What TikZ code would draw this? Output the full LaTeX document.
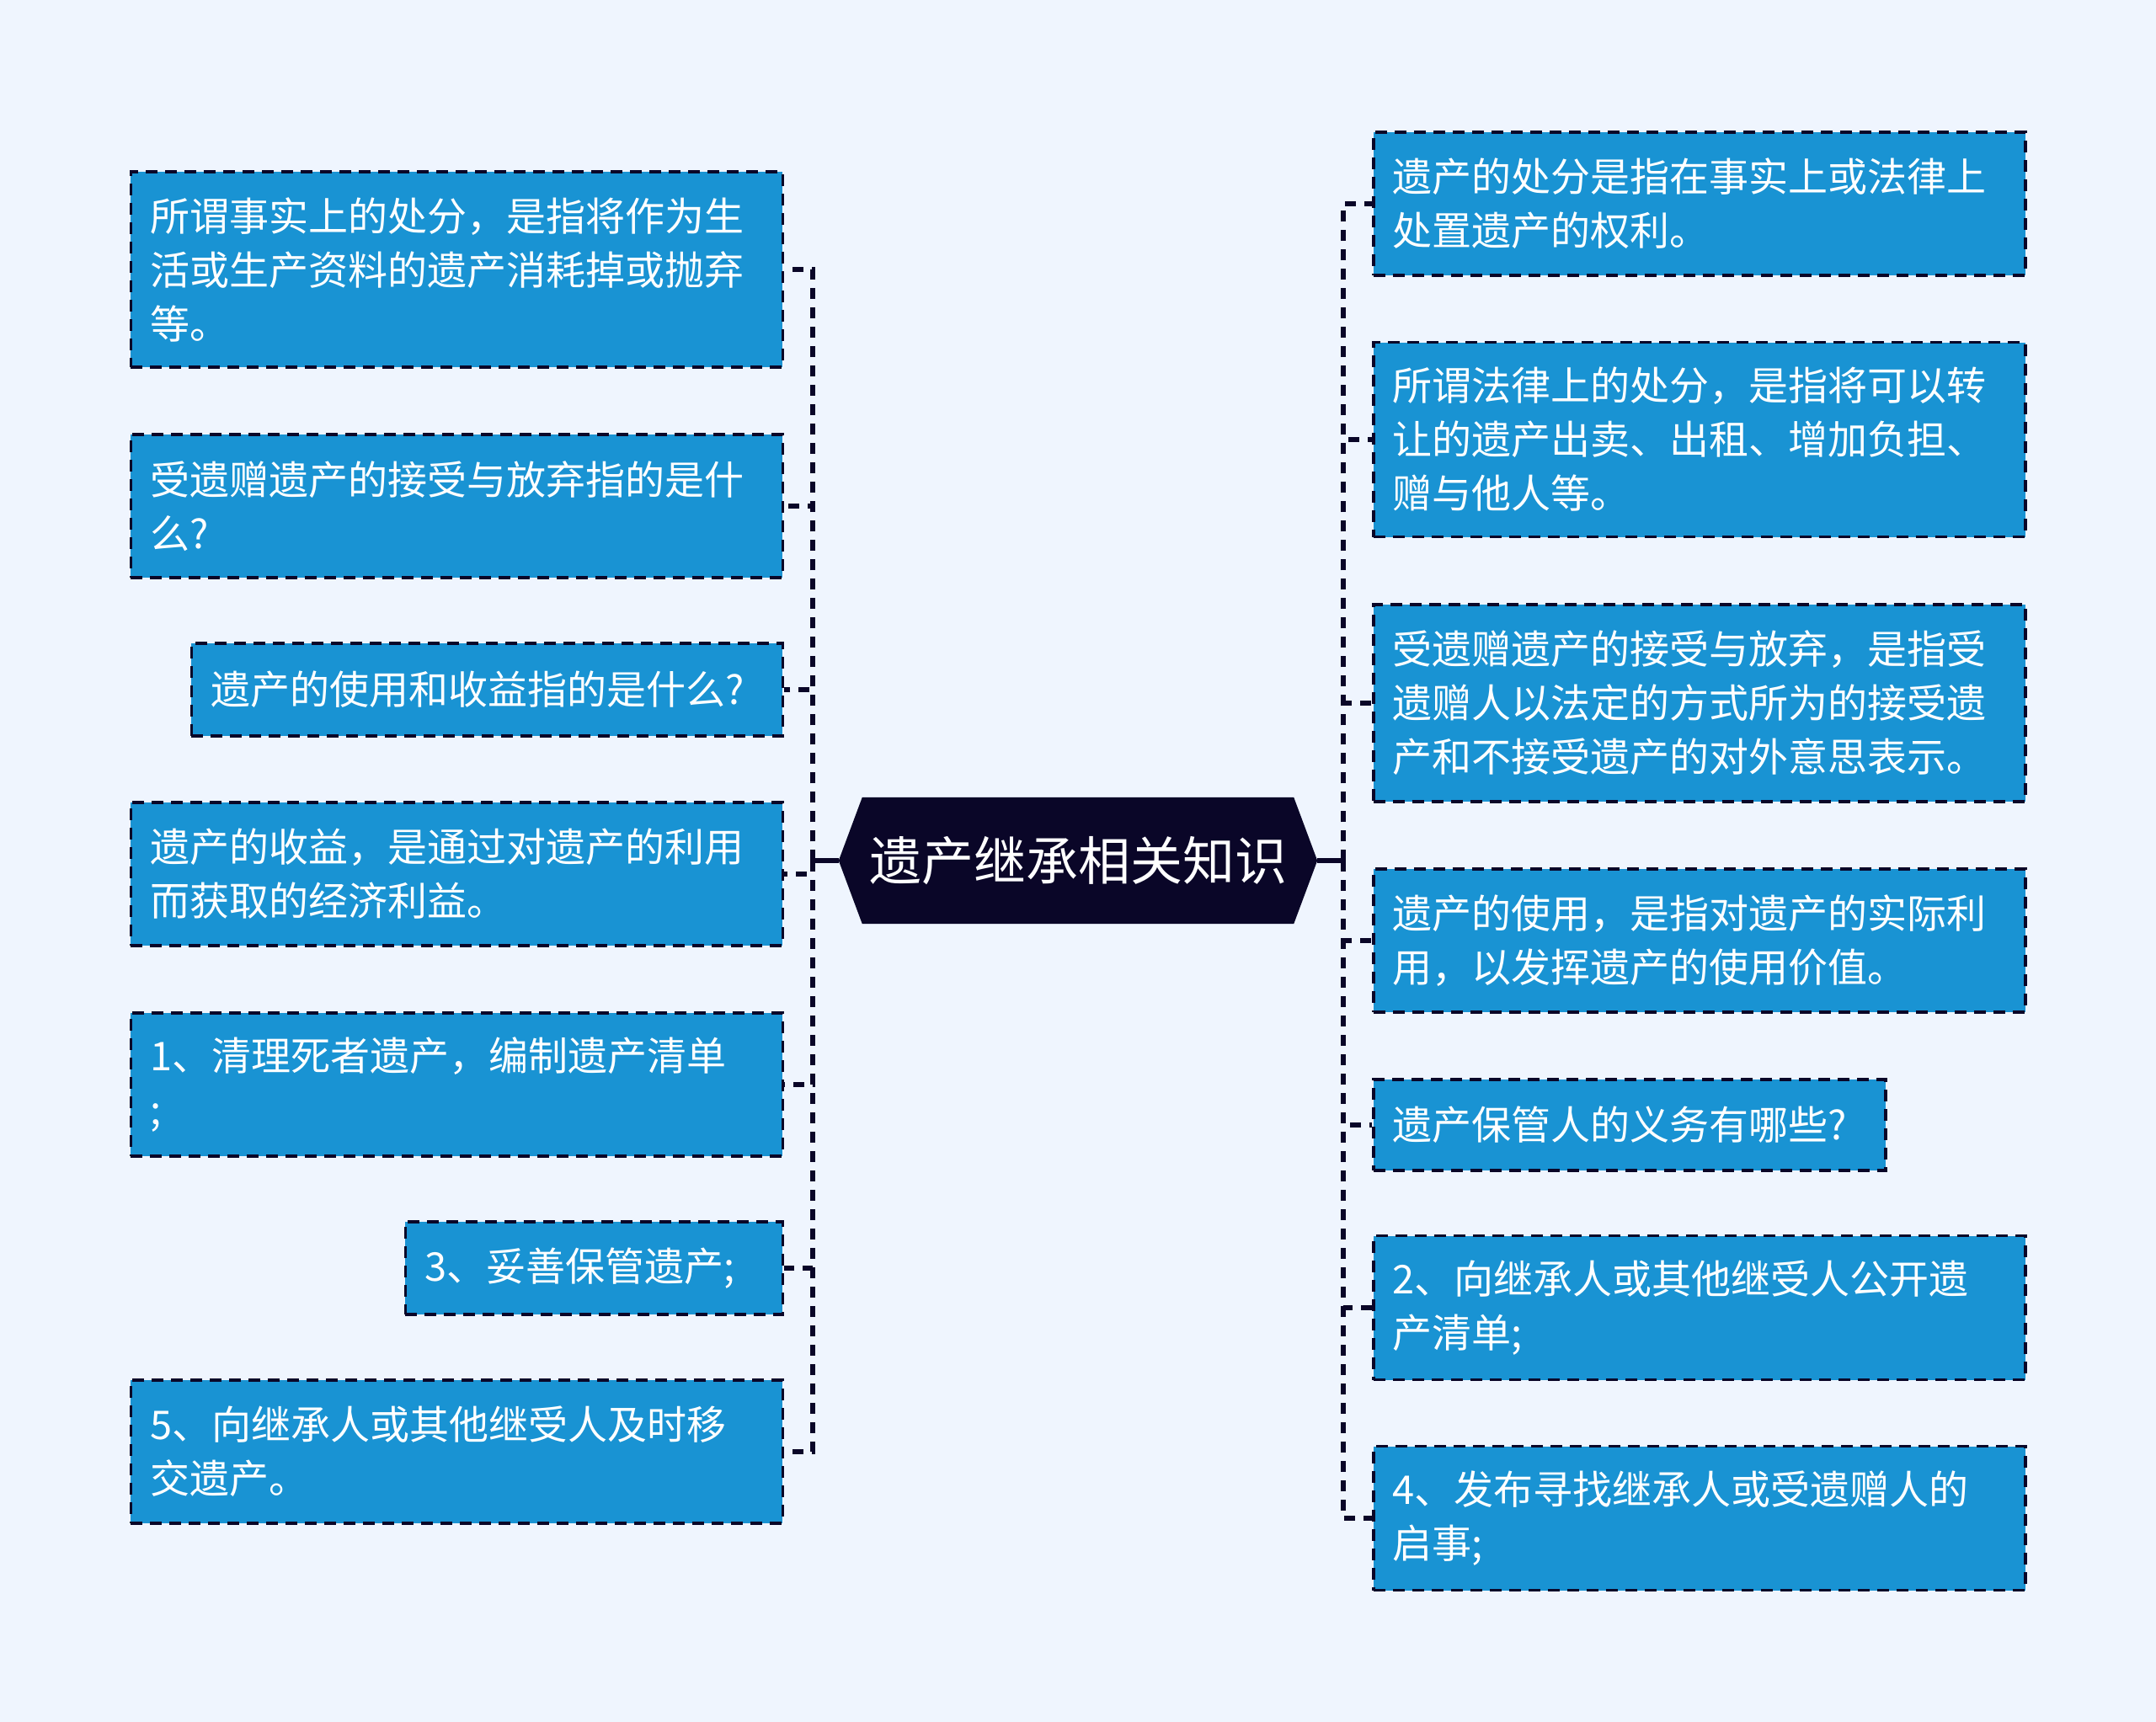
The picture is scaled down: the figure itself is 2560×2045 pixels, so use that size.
\documentclass[tikz,border=0pt]{standalone}
\usepackage{fontspec}
\newfontfamily\cjk{Noto Sans CJK SC}
\usepackage{tikz}
\usetikzlibrary{calc, backgrounds}
\usepackage{xcolor}
\definecolor{pagebg}{RGB}{239,245,254}
\definecolor{leafblue}{RGB}{25,147,211}
\definecolor{navy}{RGB}{10,6,40}
\tikzset{
    leaf/.style={draw=navy, fill=leafblue, line width=3.5pt, dash pattern=on 14pt off 9pt,
        text=white, align=left, inner xsep=23pt, inner ysep=0pt,
        font=\cjk\fontsize{47}{64}\selectfont},
    root/.style={text=white, inner sep=0pt, minimum width=512pt, minimum height=150pt,
        font=\cjk\fontsize{62}{70}\selectfont},
    link/.style={draw=navy, line width=5.5pt, dash pattern=on 13pt off 10pt},
    stub/.style={draw=navy, line width=5.5pt}
}

\begin{document}
\begin{tikzpicture}[x=1pt, y=-1pt]
    \useasboundingbox (0,0) rectangle (2560,2045);
    \node[root] (root) at (1280,1022) {遗产继承相关知识};

    % left side
    \node[leaf, text width=728pt, minimum height=232pt, anchor=east] (l1) at (931,320) {所谓事实上的处分，是指将作为生\\活或生产资料的遗产消耗掉或抛弃\\等。};
    \node[leaf, text width=728pt, minimum height=170pt, anchor=east] (l2) at (931,601) {受遗赠遗产的接受与放弃指的是什\\么?};
    \node[leaf, text width=656pt, minimum height=110pt, anchor=east] (l3) at (931,819) {遗产的使用和收益指的是什么?};
    \node[leaf, text width=728pt, minimum height=170pt, anchor=east] (l4) at (931,1038) {遗产的收益，是通过对遗产的利用\\而获取的经济利益。};
    \node[leaf, text width=728pt, minimum height=170pt, anchor=east] (l5) at (931,1288) {1、清理死者遗产，编制遗产清单\\;};
    \node[leaf, text width=402pt, minimum height=110pt, anchor=east] (l6) at (931,1506) {3、妥善保管遗产;};
    \node[leaf, text width=728pt, minimum height=170pt, anchor=east] (l7) at (931,1724) {5、向继承人或其他继受人及时移\\交遗产。};

    % right side
    \node[leaf, text width=728pt, minimum height=170pt, anchor=west] (r1) at (1629,242) {遗产的处分是指在事实上或法律上\\处置遗产的权利。};
    \node[leaf, text width=728pt, minimum height=231pt, anchor=west] (r2) at (1629,522) {所谓法律上的处分，是指将可以转\\让的遗产出卖、出租、增加负担、\\赠与他人等。};
    \node[leaf, text width=728pt, minimum height=234pt, anchor=west] (r3) at (1629,835) {受遗赠遗产的接受与放弃，是指受\\遗赠人以法定的方式所为的接受遗\\产和不接受遗产的对外意思表示。};
    \node[leaf, text width=728pt, minimum height=170pt, anchor=west] (r4) at (1629,1117) {遗产的使用，是指对遗产的实际利\\用，以发挥遗产的使用价值。};
    \node[leaf, text width=562pt, minimum height=108pt, anchor=west] (r5) at (1629,1336) {遗产保管人的义务有哪些?};
    \node[leaf, text width=728pt, minimum height=171pt, anchor=west] (r6) at (1629,1553) {2、向继承人或其他继受人公开遗\\产清单;};
    \node[leaf, text width=728pt, minimum height=171pt, anchor=west] (r7) at (1629,1803) {4、发布寻找继承人或受遗赠人的\\启事;};

    \begin{scope}[on background layer]
        \fill[pagebg] (0,0) rectangle (2560,2045);
        \fill[navy] (root.north west) -- (root.north east) -- ([xshift=28pt]root.east)
            -- (root.south east) -- (root.south west) -- ([xshift=-28pt]root.west) -- cycle;
    \end{scope}

    % connectors
    \coordinate (ljoin) at (965,1022);
    \coordinate (rjoin) at (1595,1022);
    \draw[stub] ([xshift=-28pt]root.west) -- (ljoin);
    \draw[stub] ([xshift=28pt]root.east) -- (rjoin);
    \foreach \n in {l1,l2,l3,l4,l5,l6,l7}
        \draw[link] (ljoin) |- (\n.east);
    \foreach \n in {r1,r2,r3,r4,r5,r6,r7}
        \draw[link] (rjoin) |- (\n.west);
\end{tikzpicture}
\end{document}
